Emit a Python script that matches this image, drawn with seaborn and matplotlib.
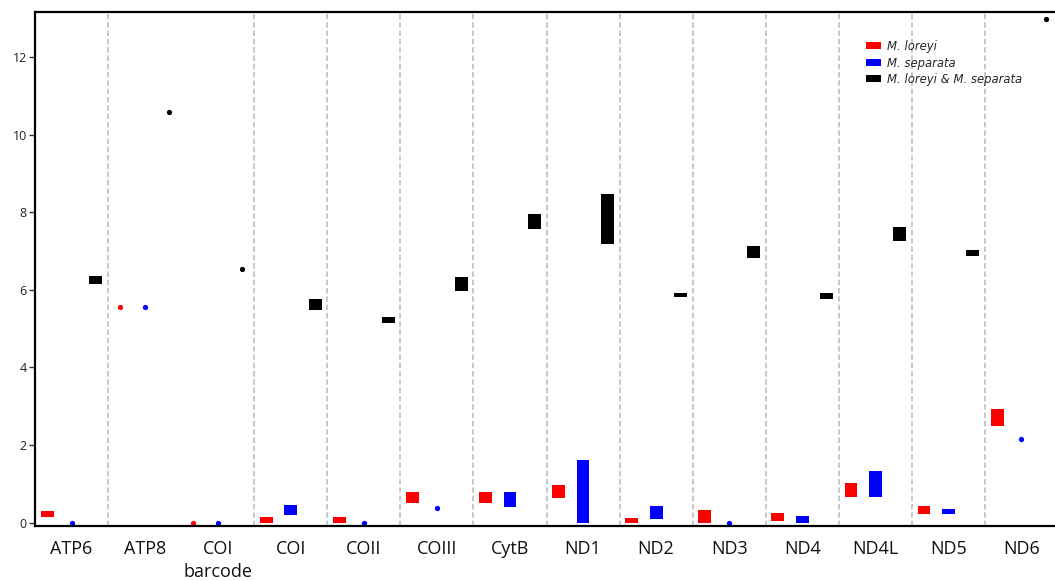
import numpy as np
import pandas as pd
import matplotlib
matplotlib.use("Agg")
import matplotlib.pyplot as plt
import seaborn as sns

# ---------------- data ----------------
genes = ["ATP6", "ATP8", "COI\nbarcode", "COI", "COII", "COIII", "CytB",
         "ND1", "ND2", "ND3", "ND4", "ND4L", "ND5", "ND6"]
series = ["M. loreyi", "M. separata", "M. loreyi & M. separata"]

loreyi_min = [0.13, 5.55, 0.00, 0.00, 0.00, 0.50, 0.50, 0.64, 0.00, 0.00, 0.05, 0.67, 0.21, 2.50]
loreyi_max = [0.30, 5.55, 0.00, 0.15, 0.15, 0.78, 0.78, 0.97, 0.12, 0.32, 0.24, 1.01, 0.43, 2.93]
separata_min = [0.00, 5.55, 0.00, 0.19, 0.00, 0.37, 0.41, 0.00, 0.08, 0.00, 0.00, 0.67, 0.21, 2.16]
separata_max = [0.00, 5.55, 0.00, 0.45, 0.00, 0.37, 0.78, 1.61, 0.43, 0.00, 0.17, 1.34, 0.35, 2.16]
both_min = [6.15, 10.59, 6.54, 5.48, 5.14, 5.96, 7.57, 7.18, 5.81, 6.82, 5.77, 7.27, 6.88, 13.00]
both_max = [6.36, 10.59, 6.54, 5.76, 5.29, 6.34, 7.95, 8.47, 5.93, 7.14, 5.93, 7.63, 7.03, 13.00]

y_ticks = [0, 2, 4, 6, 8, 10, 12]
colors = ["#ff0000", "#0000ff", "#000000"]

rows = []
for s, los, his in zip(series, [loreyi_min, separata_min, both_min],
                       [loreyi_max, separata_max, both_max]):
    for g, lo, hi in zip(genes, los, his):
        rows.append(dict(gene=g, series=s, lo=lo, hi=hi, span=round(hi - lo, 4)))
df = pd.DataFrame(rows)

# ---------------- style ----------------
sns.set_theme(style="white")
plt.rcParams["font.family"] = ["Open Sans", "DejaVu Sans"]

W, H = 1055, 581
fig = plt.figure(figsize=(W / 100, H / 100), dpi=100)
ax = fig.add_axes([35 / W, 55 / H, 1023 / W, 514 / H])

# separators between gene groups (none between ATP8 and COI barcode in the original)
for i in range(len(genes) - 1):
    if i == 1:
        continue
    ax.axvline(i + 0.5, color="#c4c4c4", lw=1.3, ls=(0, (3, 1.6)), zorder=0.5)

# range bars
sns.barplot(data=df, x="gene", y="span", hue="series", order=genes,
            hue_order=series, palette=colors, width=1.0, gap=0.47,
            errorbar=None, saturation=1, linewidth=0, legend=False, ax=ax)
for cont, s in zip(ax.containers, series):
    lows = df[df.series == s].set_index("gene").loc[genes, "lo"].to_numpy()
    for patch, lo in zip(cont.patches, lows):
        patch.set_y(lo)

# single values drawn as dots
dots = df[df.span == 0]
sns.pointplot(data=dots, x="gene", y="hi", hue="series", order=genes,
              hue_order=series, palette=colors, dodge=2 / 3,
              linestyles="none", markers="o", errorbar=None, legend=False,
              markersize=3.8, markeredgewidth=0, ax=ax)

# ---------------- axes ----------------
ax.set_xlim(-0.5, len(genes) - 0.5)
ax.set_ylim(-0.09, 13.17)
ax.set_yticks(y_ticks)
ax.set_yticklabels([str(t) for t in y_ticks])
ax.set_xlabel("")
ax.set_ylabel("")
ax.tick_params(axis="x", bottom=False, length=0, pad=10, labelsize=13,
               labelcolor="#111111")
ax.tick_params(axis="y", left=True, length=4.5, width=1.0, pad=1.5,
               labelsize=9, color="#333333", labelcolor="#222222")
for lbl in ax.get_xticklabels():
    lbl.set_linespacing(1.4)
for side in ["left", "top", "bottom"]:
    ax.spines[side].set_visible(True)
    ax.spines[side].set_color("black")
    ax.spines[side].set_linewidth(1.6)
ax.spines["right"].set_visible(False)
ax.grid(False)

ax.legend(handles=list(ax.containers[:3]), labels=series,
          loc="upper left", bbox_to_anchor=(866 / W, 1 - 40 / H),
          bbox_transform=fig.transFigure, frameon=False, borderpad=0,
          borderaxespad=0, handlelength=1.25, handleheight=0.55,
          handletextpad=0.55, labelspacing=0.3,
          prop=dict(family=["DejaVu Sans"], style="italic", size=8.4))

fig.savefig("out.png", dpi=100)
